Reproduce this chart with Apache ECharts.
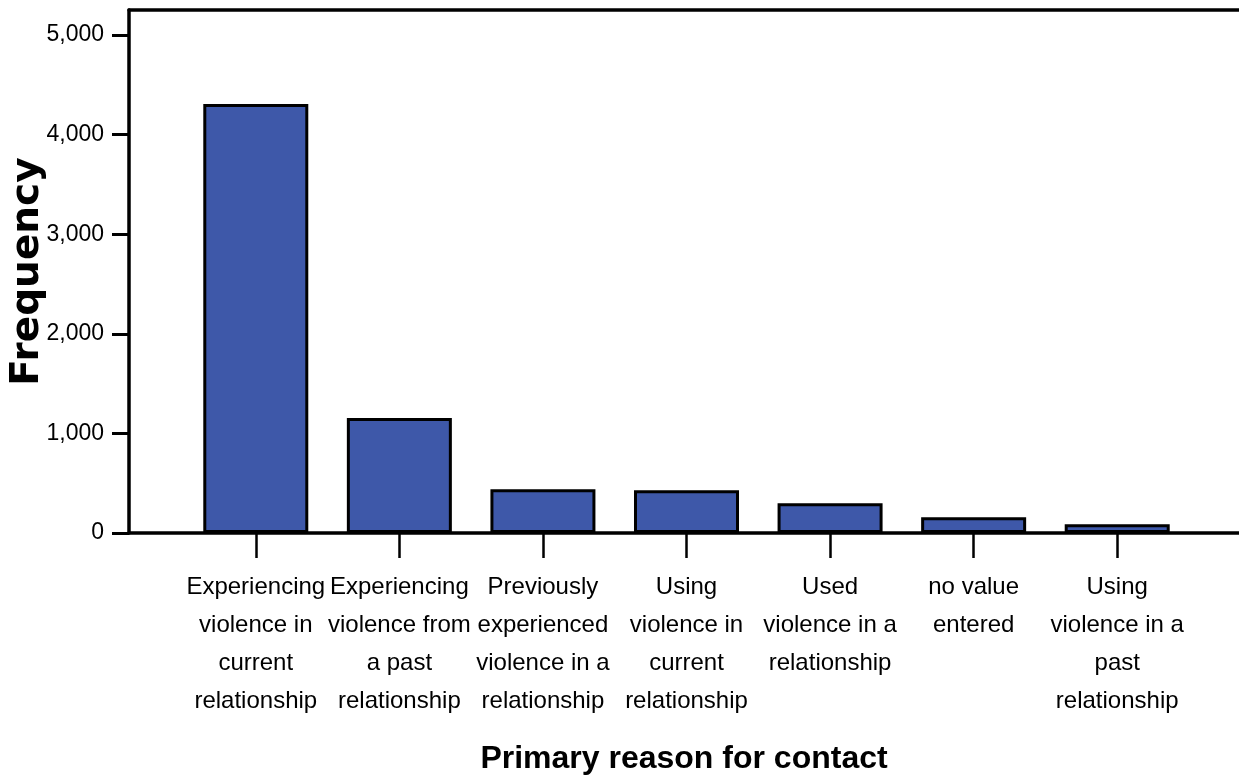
<!DOCTYPE html>
<html>
<head>
<meta charset="utf-8">
<script src="https://cdn.jsdelivr.net/npm/echarts@6/dist/echarts.min.js"></script>
<style>
html,body{margin:0;padding:0;background:#fff;}
#chart{width:1239px;height:782px;}
</style>
</head>
<body>
<div id="chart"></div>
<script>
const categories = [
  "Experiencing\nviolence in\ncurrent\nrelationship",
  "Experiencing\nviolence from\na past\nrelationship",
  "Previously\nexperienced\nviolence in a\nrelationship",
  "Using\nviolence in\ncurrent\nrelationship",
  "Used\nviolence in a\nrelationship",
  "no value\nentered",
  "Using\nviolence in a\npast\nrelationship"
];
const frequency = [4307, 1155, 439, 430, 298, 158, 88];
const yTicks = {min: 0, max: 5000, interval: 1000};
const xTitle = "Primary reason for contact";
const yTitle = "Frequency";

const sans = '"Liberation Sans Narrow","Arial Narrow","Liberation Sans",Arial,sans-serif';
const chart = echarts.init(document.getElementById('chart'));
chart.setOption({
  animation: false,
  backgroundColor: '#ffffff',
  grid: [
    {left: 184, right: 50, top: 35, bottom: 249},
    {left: 129, right: -5, top: 10, bottom: 249}
  ],
  xAxis: [
    {
      gridIndex: 0, type: 'category', data: categories,
      axisLine: {show: false},
      axisTick: {show: true, alignWithLabel: true, length: 25, lineStyle: {color: '#000', width: 2.5}},
      axisLabel: {color: '#000', fontFamily: sans, fontSize: 24, lineHeight: 38, margin: 35, interval: 0, align: 'center'},
      splitLine: {show: false}
    },
    {
      gridIndex: 1, type: 'value', min: 0, max: 1, position: 'bottom',
      axisLine: {show: true, onZero: false, lineStyle: {color: '#000', width: 3.5}},
      axisTick: {show: false}, axisLabel: {show: false}, splitLine: {show: false},
      name: xTitle, nameLocation: 'middle', nameGap: 210,
      nameTextStyle: {color: '#000', fontFamily: sans, fontWeight: 'bold', fontSize: 32}
    },
    {
      gridIndex: 1, type: 'value', min: 0, max: 1, position: 'top',
      axisLine: {show: true, onZero: false, lineStyle: {color: '#000', width: 3.5}},
      axisTick: {show: false}, axisLabel: {show: false}, splitLine: {show: false}
    }
  ],
  yAxis: [
    {
      gridIndex: 0, type: 'value', min: yTicks.min, max: yTicks.max, interval: yTicks.interval,
      offset: 55,
      axisLine: {show: false},
      axisTick: {show: true, length: 17, lineStyle: {color: '#000', width: 3}},
      axisLabel: {color: '#000', fontFamily: sans, fontSize: 23, margin: 25,
        formatter: v => v.toLocaleString('en-US')},
      splitLine: {show: false}
    },
    {
      gridIndex: 1, type: 'value', min: 0, max: 1, position: 'left',
      axisLine: {show: true, onZero: false, lineStyle: {color: '#000', width: 3.5}},
      axisTick: {show: false}, axisLabel: {show: false}, splitLine: {show: false},
      name: yTitle, nameLocation: 'middle', nameGap: 82,
      nameTextStyle: {color: '#000', fontFamily: '"DejaVu Sans",sans-serif', fontWeight: 'bold', fontSize: 39}
    }
  ],
  series: [{
    type: 'bar', xAxisIndex: 0, yAxisIndex: 0,
    data: frequency,
    barWidth: 105,
    itemStyle: {color: '#3e58a9', borderColor: '#000', borderWidth: 3},
    z: 3
  }]
});
</script>
</body>
</html>
